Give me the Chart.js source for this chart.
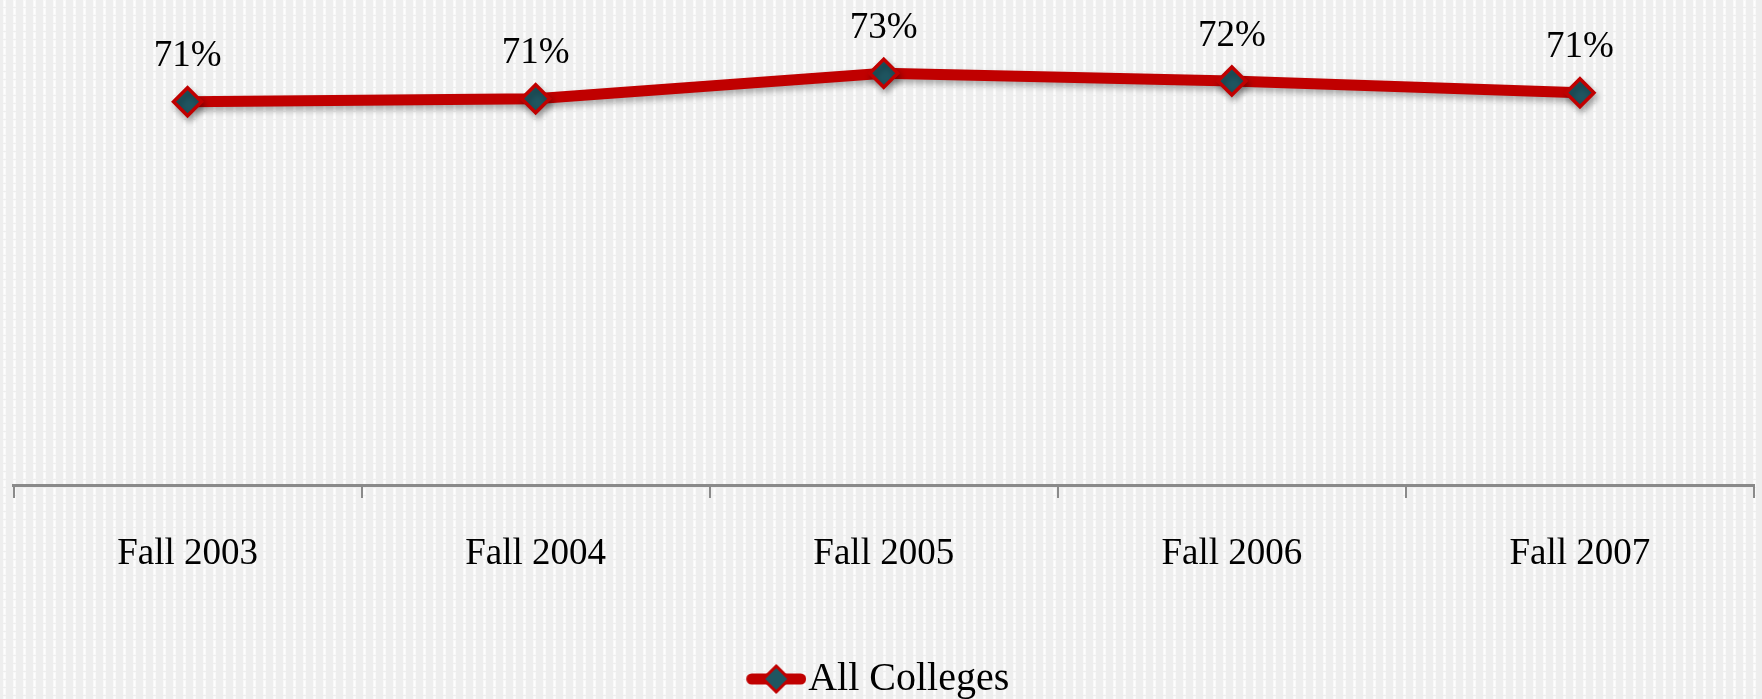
<!DOCTYPE html>
<html>
<head>
<meta charset="utf-8">
<script src="https://cdn.jsdelivr.net/npm/chart.js@4"></script>
<style>
html, body { margin: 0; padding: 0; background: #f1f1f1; }
#wrap { width: 1762px; height: 699px; }
</style>
</head>
<body>
<div id="wrap"><canvas id="rate"></canvas></div>
<script>
var labels = ['Fall 2003', 'Fall 2004', 'Fall 2005', 'Fall 2006', 'Fall 2007'];
var seriesName = 'All Colleges';
var allColleges = [0.7065, 0.7085, 0.7255, 0.7203, 0.7125];
var yMin = 0.451;
var yMax = 0.7743;

var RED = '#c00000';
var TEAL = '#1f5661';
var FONT = "'Liberation Serif', 'Times New Roman', serif";
var BOTTOM_PAD = -10;

// grey backdrop with faint white stitching, like the original slide
function backdrop() {
	var c = document.createElement('canvas');
	c.width = 10; c.height = 8;
	var g = c.getContext('2d');
	g.fillStyle = '#eeeeee';
	g.fillRect(0, 0, 10, 8);
	g.fillStyle = '#f9f9f9';
	g.fillRect(3, 0, 3, 7);
	g.fillStyle = '#fefefe';
	g.fillRect(4, 1, 1, 5);
	return c;
}

// line + diamond sample for the legend, drawn to the right edge of the image
function legendSymbol() {
	var c = document.createElement('canvas');
	c.width = 66; c.height = 34;
	var g = c.getContext('2d');
	g.strokeStyle = RED;
	g.lineWidth = 11;
	g.lineCap = 'round';
	g.beginPath(); g.moveTo(11.5, 17); g.lineTo(60.5, 17); g.stroke();
	g.beginPath();
	g.moveTo(36, 4); g.lineTo(49, 17); g.lineTo(36, 30); g.lineTo(23, 17);
	g.closePath();
	g.fillStyle = TEAL; g.fill();
	g.lineWidth = 3; g.strokeStyle = RED; g.stroke();
	return c;
}

var bgPlugin = {
	id: 'bg',
	beforeDraw: function (chart) {
		var ctx = chart.ctx;
		ctx.save();
		ctx.fillStyle = ctx.createPattern(backdrop(), 'repeat');
		ctx.fillRect(0, 0, chart.width, chart.height);
		ctx.restore();
	}
};

var shadowPlugin = {
	id: 'shadow',
	beforeDatasetsDraw: function (chart) {
		var ctx = chart.ctx;
		ctx.save();
		ctx.shadowColor = 'rgba(0,0,0,0.3)';
		ctx.shadowBlur = 6;
		ctx.shadowOffsetX = 2;
		ctx.shadowOffsetY = 4;
	},
	afterDatasetsDraw: function (chart) {
		chart.ctx.restore();
	}
};

var valueLabels = {
	id: 'valueLabels',
	afterDatasetsDraw: function (chart) {
		var ctx = chart.ctx;
		var meta = chart.getDatasetMeta(0);
		ctx.save();
		ctx.font = '37px ' + FONT;
		ctx.fillStyle = '#000';
		ctx.textAlign = 'center';
		ctx.textBaseline = 'middle';
		meta.data.forEach(function (pt, i) {
			var v = chart.data.datasets[0].data[i];
			ctx.fillText(Math.round(v * 100) + '%', pt.x, pt.y - 45);
		});
		ctx.restore();
	}
};

var ctx = document.getElementById('rate').getContext('2d');
window.RateChart = new Chart(ctx, {
	type: 'line',
	data: {
		labels: labels,
		datasets: [{
			label: seriesName,
			data: allColleges,
			borderColor: RED,
			borderWidth: 11,
			tension: 0,
			pointStyle: 'rectRot',
			pointRadius: 14,
			pointHoverRadius: 14,
			pointBackgroundColor: TEAL,
			pointBorderColor: RED,
			pointBorderWidth: 3.5,
			clip: false
		}]
	},
	options: {
		responsive: true,
		maintainAspectRatio: false,
		animation: false,
		layout: {
			autoPadding: false,
			padding: { left: 13.5, right: 8, top: 0, bottom: BOTTOM_PAD }
		},
		plugins: {
			tooltip: { enabled: false },
			legend: {
				position: 'bottom',
				labels: {
					usePointStyle: true,
					pointStyleWidth: 30,
					color: '#000',
					font: { family: FONT, size: 40 },
					padding: 0,
					generateLabels: function (chart) {
						return [{
							text: seriesName,
							pointStyle: legendSymbol(),
							fillStyle: TEAL,
							strokeStyle: RED,
							lineWidth: 0,
							hidden: false,
							datasetIndex: 0,
							fontColor: '#000'
						}];
					}
				}
			}
		},
		scales: {
			x: {
				offset: true,
				grid: {
					display: true,
					offset: true,
					drawOnChartArea: false,
					drawTicks: true,
					tickLength: 13,
					color: '#8a8a8a',
					lineWidth: 2
				},
				border: { display: true, color: '#8a8a8a', width: 3 },
				ticks: {
					color: '#000',
					font: { family: FONT, size: 37 },
					padding: 34,
					maxRotation: 0
				},
				afterFit: function (s) {
					var lh = s.chart.legend ? s.chart.legend.height : 0;
					s.height = 699 - BOTTOM_PAD - 485 - lh;
				}
			},
			y: {
				display: false,
				min: yMin,
				max: yMax
			}
		}
	},
	plugins: [bgPlugin, shadowPlugin, valueLabels]
});
</script>
</body>
</html>
